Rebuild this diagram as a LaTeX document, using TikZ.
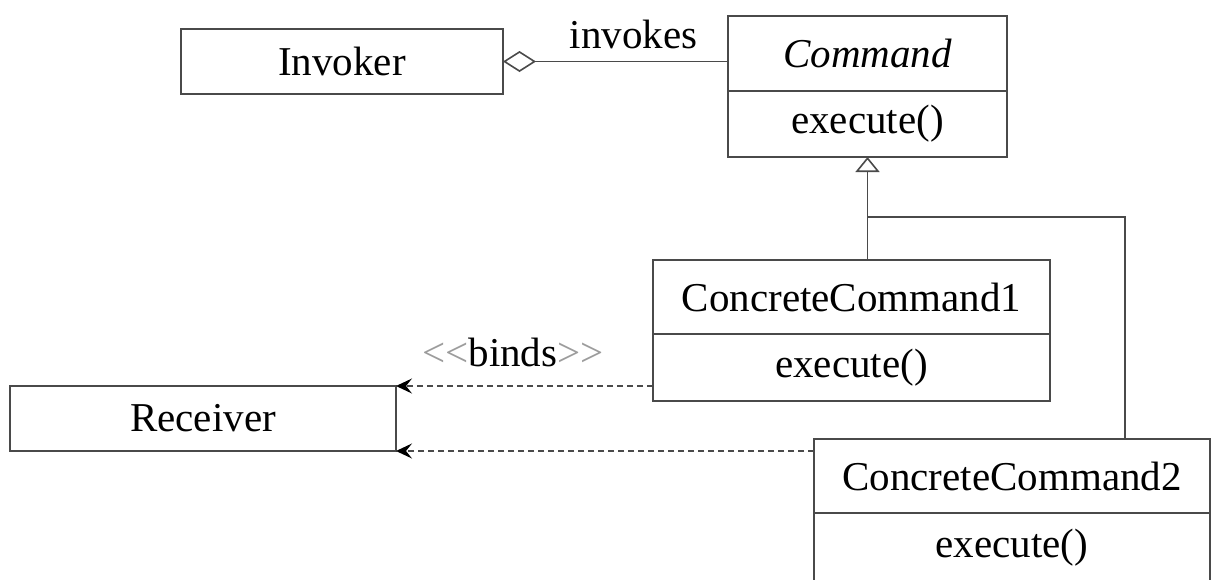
\documentclass[tikz,border=0pt]{standalone}
\usepackage{fontspec}
\setmainfont{LiberationSerif}[Extension=.ttf, UprightFont=*-Regular, ItalicFont=*-Italic, BoldFont=*-Bold, BoldItalicFont=*-BoldItalic]
\usetikzlibrary{arrows.meta,positioning}
\definecolor{umlline}{HTML}{4A4A4A}
\definecolor{stereo}{HTML}{9C9C9C}

\begin{document}
\begin{tikzpicture}[x=1pt, y=-1pt, font=\fontsize{41}{49}\selectfont,
  classbox/.style={draw=umlline, line width=1.6pt, inner sep=0pt, outer sep=0pt, minimum height=#1},
  classbox/.default=65pt,
  link/.style={umlline, line width=1.6pt},
  dep/.style={link, line width=1.4pt, dash pattern=on 6pt off 4pt,
    -{Stealth[black, length=16pt, width=15pt, inset=6pt]}}]
  \useasboundingbox (0,0) rectangle (1211,579);
  % classes
  \node[classbox, minimum width=322pt] (Inv) at (342,61.5) {Invoker};
  \node[classbox=75pt, minimum width=279pt] (CmdName) at (867.5,53.5) {\itshape Command};
  \node[classbox=66pt, minimum width=279pt, below=0pt of CmdName] (CmdOps) {execute()};
  \node[classbox=74pt, minimum width=397pt] (CC1Name) at (851.5,297) {ConcreteCommand1};
  \node[classbox=67pt, minimum width=397pt, below=0pt of CC1Name] (CC1Ops) {execute()};
  \node[classbox=74pt, minimum width=396pt] (CC2Name) at (1012,476) {ConcreteCommand2};
  \node[classbox=70pt, minimum width=396pt, below=0pt of CC2Name] (CC2Ops) {execute()};
  \node[classbox, minimum width=386pt] (Rec) at (203,418.5) {Receiver};
  % aggregation
  \draw[link, {Diamond[open, length=33pt, width=21pt]}-] (Inv.east) -- (Inv.east -| CmdName.west)
    node[pos=0.58, above, black, yshift=8pt] {invokes};
  % generalization
  \draw[link, -{Triangle[open, length=15pt, width=24pt]}] (CmdOps.south |- CC1Name.north) -- (CmdOps.south);
  \coordinate (Fork) at (CmdOps.south |- 0,217);
  \draw[link] (Fork) -| ([xshift=113pt]CC2Name.north);
  % dependencies
  \draw[dep] (CC1Ops.west |- Rec.north east) -- (Rec.north east)
    node[pos=0.545, above, black, yshift=15pt] {{\color{stereo}<{}<}binds{\color{stereo}>{}>}};
  \draw[dep] (CC2Name.west |- Rec.south east) -- (Rec.south east);
\end{tikzpicture}
\end{document}
